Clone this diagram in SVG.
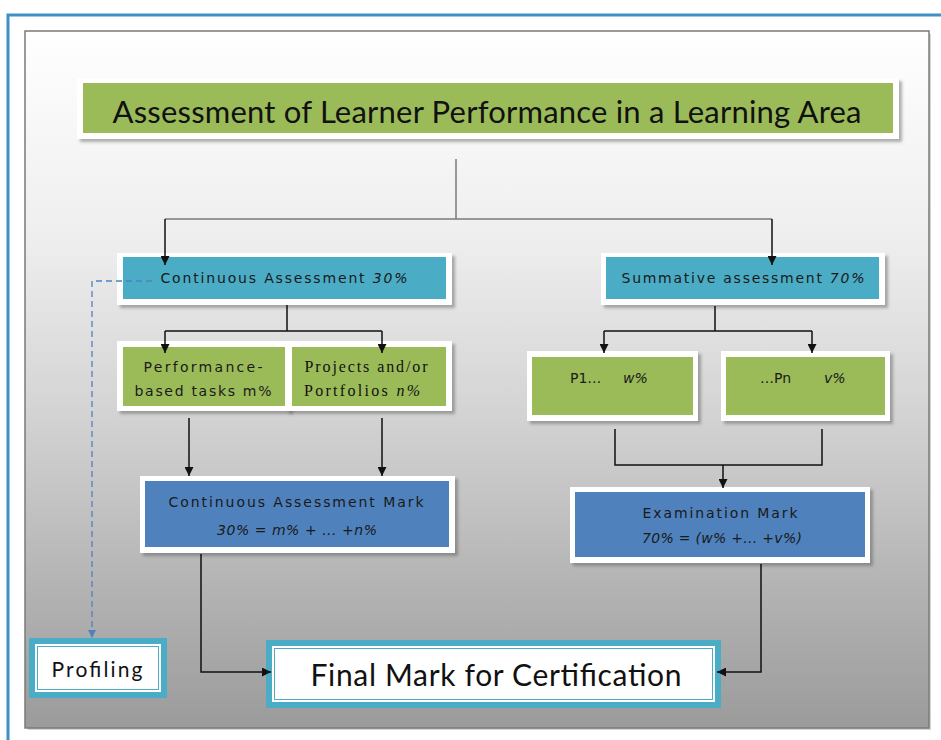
<svg xmlns="http://www.w3.org/2000/svg" width="941" height="740" viewBox="0 0 941 740">
  <style>
    .cal { font-family: Lato, "Open Sans", "Liberation Sans", sans-serif; fill: #111; }
    .tah { font-family: "DejaVu Sans", "Liberation Sans", sans-serif; font-size: 14px; fill: #1a1a1a; }
    .ser { font-family: "Liberation Serif", serif; font-size: 16px; fill: #111; }
    .it { font-style: italic; }
    .frame { fill: #ffffff; filter: url(#shadow); }
    .teal { fill: #4bacc6; }
    .green { fill: #9bbb59; }
    .blue { fill: #4f81bd; }
    .conn { fill: none; stroke: #111; stroke-width: 1.5; }
    .connG { fill: none; stroke: #7a7a7a; stroke-width: 1.5; }
    .dash { fill: none; stroke: #4f81bd; stroke-width: 1.3; stroke-dasharray: 6 4; }
  </style>
  <defs>
    <linearGradient id="bg" x1="0" y1="0" x2="0" y2="1">
      <stop offset="0" stop-color="#ffffff"/>
      <stop offset="0.3" stop-color="#eeeeee"/>
      <stop offset="0.55" stop-color="#d3d3d3"/>
      <stop offset="0.8" stop-color="#b3b3b3"/>
      <stop offset="1" stop-color="#9b9b9b"/>
    </linearGradient>
    <filter id="shadow" x="-5%" y="-10%" width="115%" height="130%">
      <feDropShadow dx="3" dy="3" stdDeviation="1.5" flood-color="#555" flood-opacity="0.45"/>
    </filter>
    <marker id="arr" viewBox="0 0 10 10" refX="10" refY="5" markerWidth="9" markerHeight="9" markerUnits="userSpaceOnUse" orient="auto">
      <path d="M0,0 L10,5 L0,10 z" fill="#111"/>
    </marker>
    <marker id="arrB" viewBox="0 0 10 10" refX="10" refY="5" markerWidth="8" markerHeight="8" markerUnits="userSpaceOnUse" orient="auto">
      <path d="M0,0 L10,5 L0,10 z" fill="#4f81bd"/>
    </marker>
  </defs>

  <!-- outer blue border -->
  <path d="M8 740 V15 H941" fill="none" stroke="#3e8fc6" stroke-width="3"/>
  <!-- panel -->
  <rect x="28" y="34" width="903" height="696" fill="#888" opacity="0.35"/>
  <rect x="25" y="31" width="904" height="697" fill="url(#bg)" stroke="#7a7a7a" stroke-width="1.5"/>

  <g id="title">
    <rect class="frame" x="77" y="78" width="822" height="61"/>
    <rect class="green" x="83" y="83" width="810" height="50"/>
    <text class="cal" x="487" y="123" font-size="31" text-anchor="middle" textLength="749">Assessment of Learner Performance in a Learning Area</text>
  </g>

  <g id="continuous">
    <rect class="frame" x="117" y="253" width="335" height="52"/>
    <rect class="teal" x="123" y="257" width="323" height="42"/>
    <text class="tah" x="284" y="283" text-anchor="middle" textLength="247">Continuous Assessment <tspan class="it">30%</tspan></text>
  </g>

  <g id="summative">
    <rect class="frame" x="601" y="253" width="284" height="52"/>
    <rect class="teal" x="606" y="257" width="273" height="42"/>
    <text class="tah" x="743" y="283" text-anchor="middle" textLength="243">Summative assessment <tspan class="it">70%</tspan></text>
  </g>

  <g id="performance">
    <rect class="frame" x="117" y="341" width="173" height="70"/>
    <rect class="green" x="123" y="347" width="162" height="59"/>
    <text class="tah" x="203" y="372" text-anchor="middle" textLength="119">Performance-</text>
    <text class="tah" x="203" y="396" text-anchor="middle" textLength="137">based tasks m%</text>
  </g>

  <g id="projects">
    <rect class="frame" x="286" y="341" width="166" height="70"/>
    <rect class="green" x="292" y="347" width="154" height="59"/>
    <text class="ser" x="366" y="372" text-anchor="middle" textLength="123">Projects and/or</text>
    <text class="ser" x="362" y="396" text-anchor="middle" textLength="116">Portfolios <tspan class="it">n%</tspan></text>
  </g>

  <g id="p1">
    <rect class="frame" x="527" y="351" width="171" height="70"/>
    <rect class="green" x="532" y="357" width="161" height="58"/>
    <text class="tah" y="383"><tspan x="570">P1…</tspan><tspan x="623" class="it">w%</tspan></text>
  </g>

  <g id="pn">
    <rect class="frame" x="721" y="351" width="169" height="70"/>
    <rect class="green" x="726" y="357" width="159" height="58"/>
    <text class="tah" y="383"><tspan x="760">…Pn</tspan><tspan x="824" class="it">v%</tspan></text>
  </g>

  <g id="ca-mark">
    <rect class="frame" x="140" y="476" width="315" height="77"/>
    <rect class="blue" x="145" y="481" width="304" height="66"/>
    <text class="tah" x="296" y="507" text-anchor="middle" textLength="255">Continuous Assessment Mark</text>
    <text class="tah it" x="297" y="535" text-anchor="middle" textLength="160">30% = m% + ... +n%</text>
  </g>

  <g id="exam-mark">
    <rect class="frame" x="570" y="487" width="300" height="76"/>
    <rect class="blue" x="575" y="492" width="290" height="65"/>
    <text class="tah" x="720" y="518" text-anchor="middle" textLength="155">Examination Mark</text>
    <text class="tah it" x="722" y="543" text-anchor="middle" textLength="160">70% = (w% +... +v%)</text>
  </g>

  <g id="profiling">
    <rect class="teal" x="29" y="638" width="138" height="60"/>
    <rect x="35" y="644" width="126" height="48" fill="#fff"/>
    <rect x="37.5" y="646.5" width="121" height="43" fill="#fff" stroke="#4bacc6" stroke-width="1"/>
    <text class="cal" x="97" y="677" font-size="21" text-anchor="middle" textLength="91">Profiling</text>
  </g>

  <g id="final">
    <rect class="teal" x="266" y="640" width="455" height="68"/>
    <rect x="272" y="646" width="443" height="56" fill="#fff"/>
    <rect x="274.5" y="648.5" width="438" height="51" fill="#fff" stroke="#4bacc6" stroke-width="1"/>
    <text class="cal" x="496" y="686" font-size="30" text-anchor="middle" textLength="371">Final Mark for Certification</text>
  </g>

  <g id="connectors">
    <path class="connG" d="M456 159 V219"/>
    <path class="connG" d="M165 219 H772"/>
    <path class="conn" d="M165 219 V265" marker-end="url(#arr)"/>
    <path class="conn" d="M772 219 V265" marker-end="url(#arr)"/>
    <path class="conn" d="M287 305 V331 M165 331 H382"/>
    <path class="conn" d="M165 331 V353" marker-end="url(#arr)"/>
    <path class="conn" d="M382 331 V353" marker-end="url(#arr)"/>
    <path class="conn" d="M715 306 V331 M604 331 H812"/>
    <path class="conn" d="M604 331 V353" marker-end="url(#arr)"/>
    <path class="conn" d="M812 331 V353" marker-end="url(#arr)"/>
    <path class="conn" d="M189 418 V476" marker-end="url(#arr)"/>
    <path class="conn" d="M382 418 V476" marker-end="url(#arr)"/>
    <path class="conn" d="M615 429 V465 H822 V429"/>
    <path class="conn" d="M723 465 V488" marker-end="url(#arr)"/>
    <path class="conn" d="M201 554 V672 H271" marker-end="url(#arr)"/>
    <path class="conn" d="M761 564 V672 H717" marker-end="url(#arr)"/>
    <path class="dash" d="M152 281 H92 V638" marker-end="url(#arrB)"/>
  </g>
</svg>
